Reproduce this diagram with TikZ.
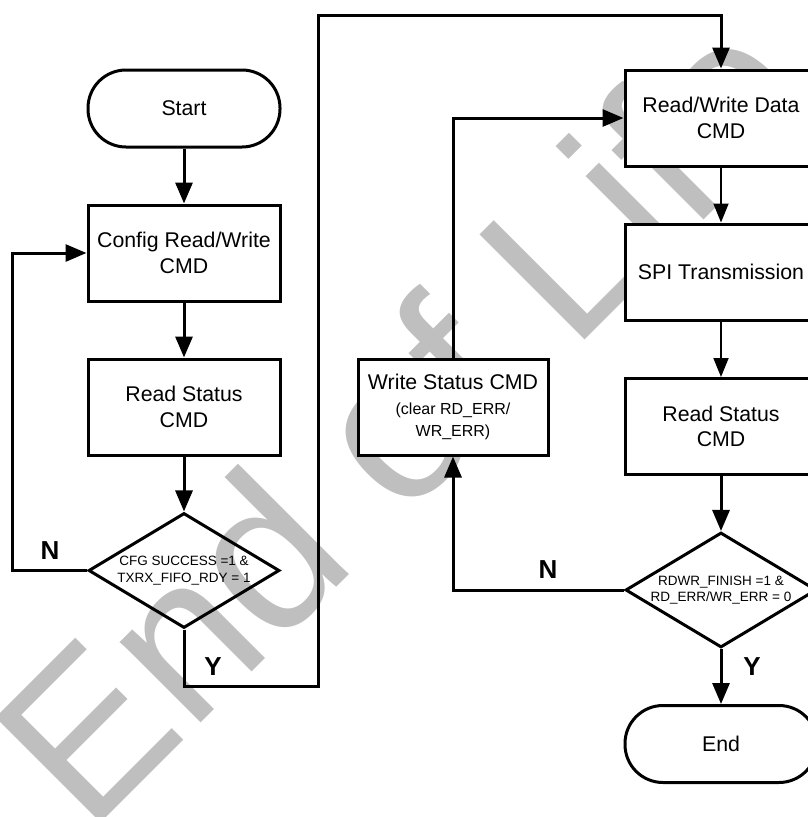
\documentclass[tikz,border=0pt]{standalone}
\usepackage{fontspec}
\setmainfont{Liberation Sans}
\usetikzlibrary{arrows.meta,shapes.geometric}
\begin{document}
\begin{tikzpicture}[x=1pt,y=-1pt,
  box/.style={draw, line width=3pt, fill=white, minimum width=192pt, minimum height=96pt, inner sep=0pt, align=center, font=\fontsize{21.3}{25.5}\selectfont},
  term/.style={draw, line width=3pt, fill=white, rounded corners=38pt, minimum width=192pt, minimum height=77pt, inner sep=0pt, font=\fontsize{21.3}{25.5}\selectfont},
  dec/.style={draw, diamond, line width=3pt, aspect=1.66, minimum width=191pt, minimum height=115pt, inner sep=0pt, align=center, font=\fontsize{13.5}{16.5}\selectfont},
  lab/.style={font=\fontsize{26}{26}\bfseries\selectfont, inner sep=0pt},
  thk/.style={line width=3pt, -{Triangle[length=21pt,width=17pt]}},
  thn/.style={line width=1.8pt, -{Triangle[length=19pt,width=15pt]}},
  ln/.style={line width=3pt},
  wm/.style={text=black!25, font=\fontsize{216}{216}\selectfont, inner sep=0pt}
]
\useasboundingbox (0,0) rectangle (808,817);
\clip (0,0) rectangle (808,817);
% watermark
\node[wm, rotate=45, anchor=base west] (wmk) at (88,836) {End of Life};
% left column
\node[term] (start) at (184,108.5) {Start};
\node[box] (cfg) at (184,253) {Config Read/Write\\CMD};
\node[box] (rs1) at (184,407) {Read Status\\CMD};
\node[dec] (d1) at (184,570.5) {CFG SUCCESS =1 \&\\TXRX\_FIFO\_RDY = 1};
% right column
\node[box] (rwd) at (721,118) {Read/Write Data\\CMD};
\node[box] (spi) at (721,272) {SPI Transmission};
\node[box] (rs2) at (721,426.5) {Read Status\\CMD};
\node[dec] (d2) at (721,590) {RDWR\_FINISH =1 \&\\RD\_ERR/WR\_ERR = 0};
\node[term] (endn) at (721,744) {End};
% middle
\node[box, minimum width=190pt] (ws) at (453,407) {Write Status CMD\\[-1pt]{\fontsize{16}{20}\selectfont (clear RD\_ERR/}\\[-3pt]{\fontsize{16}{20}\selectfont WR\_ERR)}};
% labels
\node[lab] (nL) at (50,551) {N};
\node[lab] (yL) at (213,667) {Y};
\node[lab] (nR) at (548,570) {N};
\node[lab] (yR) at (752,667) {Y};
% helper coordinates
\coordinate (nl) at (12,0);
\coordinate (ya) at (318,686);
\coordinate (yt) at (318,15);
% connectors
\draw[thk] (start) -- (cfg);
\draw[thk] (cfg) -- (rs1);
\draw[thk] (rs1) -- (d1);
\draw[thk] (d1.west) -- (d1.west -| nl) -- (cfg.west -| nl) -- (cfg.west);
\draw[thk] (d1.south) |- (ya) -- (yt) -| (rwd.north);
\draw[thn] (rwd) -- (spi);
\draw[thn] (spi) -- (rs2);
\draw[thk] (rs2) -- (d2);
\draw[thk] (d2) -- (endn);
\draw[thk] (d2.west) -| (ws.south);
\draw[thk] (ws.north) |- (rwd.west);
\end{tikzpicture}
\end{document}
